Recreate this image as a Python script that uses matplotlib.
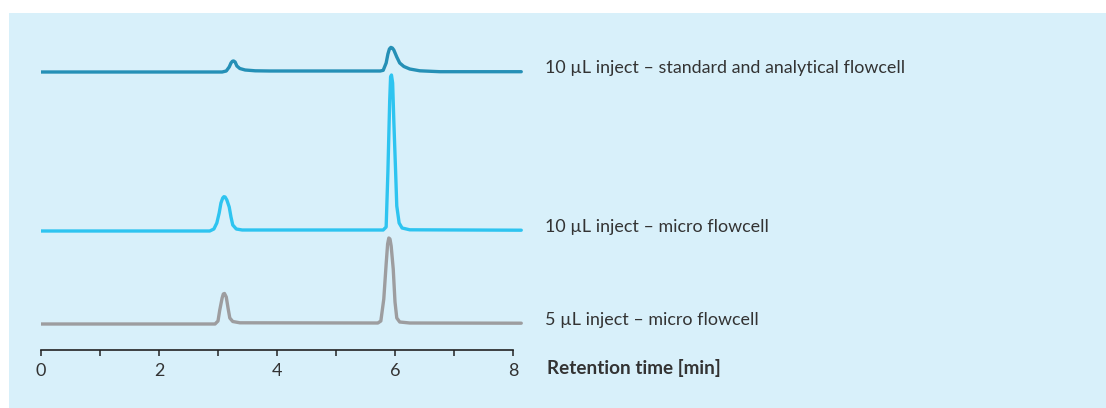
import matplotlib
matplotlib.use('Agg')
import matplotlib.pyplot as plt
from matplotlib.patches import Rectangle

# Chromatogramas: tiempo [min] y senal sobre la linea base
t_std = [0.0, 3.07, 3.14, 3.19, 3.22, 3.245, 3.265, 3.29, 3.32, 3.37, 3.46, 3.63, 3.88, 5.75,
         5.80, 5.85, 5.88, 5.905, 5.93, 5.955, 5.98, 6.03, 6.08, 6.15, 6.25, 6.42, 6.76, 8.14]
s_std = [0.0, 0.0, 1.0, 5.0, 9.0, 10.8, 11.0, 10.0, 6.0, 3.5, 2.0, 1.2, 1.0, 1.0,
         1.7, 9.0, 18.0, 23.0, 24.6, 24.0, 22.0, 15.0, 9.0, 5.5, 3.0, 1.2, 0.3, 0.3]

t_micro10 = [0.0, 2.86, 2.93, 2.98, 3.02, 3.05, 3.08, 3.10, 3.12, 3.15, 3.19, 3.22, 3.25, 3.31,
             3.41, 5.80, 5.85, 5.88, 5.91, 5.925, 5.94, 5.96, 5.98, 6.01, 6.03, 6.07, 6.12,
             6.25, 8.14]
s_micro10 = [0.0, 0.0, 2.0, 8.0, 18.0, 28.0, 33.0, 34.3, 34.0, 31.0, 24.0, 14.0, 6.0, 2.0,
             1.0, 1.0, 4.0, 60.0, 130.0, 154.0, 156.0, 148.0, 110.0, 60.0, 25.0, 8.0, 3.0,
             1.2, 0.8]

t_micro5 = [0.0, 2.95, 3.00, 3.03, 3.07, 3.09, 3.11, 3.14, 3.17, 3.20, 3.25, 3.37, 5.71,
            5.76, 5.81, 5.85, 5.875, 5.895, 5.915, 5.935, 5.97, 6.00, 6.03, 6.08, 6.25, 8.14]
s_micro5 = [0.0, 0.0, 3.0, 14.0, 26.0, 30.0, 30.5, 27.0, 16.0, 6.0, 2.5, 1.2, 1.0,
            3.0, 25.0, 60.0, 80.0, 86.0, 85.0, 78.0, 55.0, 22.0, 6.0, 2.0, 1.0, 0.8]

etiquetas = ['10 µL inject – standard and analytical flowcell',
             '10 µL inject – micro flowcell',
             '5 µL inject – micro flowcell']
ticks = [0, 1, 2, 3, 4, 5, 6, 7, 8]
tick_labels = ['0', '', '2', '', '4', '', '6', '', '8']

plt.rcParams['font.family'] = ['Lato', 'DejaVu Sans']

fig = plt.figure(figsize=(11.06, 4.08), dpi=100)
fig.patch.set_facecolor('white')
# Panel azul claro de fondo, por debajo de los ejes
fig.add_artist(Rectangle((9 / 1106, 0), 1, 1 - 13 / 408, transform=fig.transFigure,
                         facecolor='#d8f0fa', edgecolor='none', zorder=-5))

ax = fig.add_axes([41 / 1106, 58 / 408, 1065 / 1106, 337 / 408])
ax.set_facecolor('none')
ax.set_xlim(0, 1065 / 59)
ax.set_ylim(0, 337)

desplazamientos = [278, 119, 26]
colores = ['#2590b6', '#2ec4f0', '#9d9d9f']
series = [(t_std, s_std), (t_micro10, s_micro10), (t_micro5, s_micro5)]
for (t, s), off, c, lab in zip(series, desplazamientos, colores, etiquetas):
    ax.plot(t, [v + off for v in s], color=c, lw=2.4, solid_joinstyle='round',
            solid_capstyle='round')
    ax.text(8.54, off + 4, lab, fontsize=12.9, color='#333333', va='center', ha='left')

for lado in ['top', 'right', 'left']:
    ax.spines[lado].set_visible(False)
ax.spines['bottom'].set_bounds(0, 8)
ax.spines['bottom'].set_linewidth(1.2)
ax.spines['bottom'].set_color('#222222')
ax.set_yticks([])
ax.set_xticks(ticks)
ax.set_xticklabels(tick_labels)
ax.tick_params(axis='x', direction='out', length=4, width=1.1, color='#222222',
               labelsize=13, labelcolor='#333333', pad=5)

ax.text(8.57, -18, 'Retention time [min]', fontsize=13.6, fontweight='bold',
        color='#333333', va='center', ha='left', clip_on=False)

plt.savefig('out.png', dpi=100)
plt.close()
